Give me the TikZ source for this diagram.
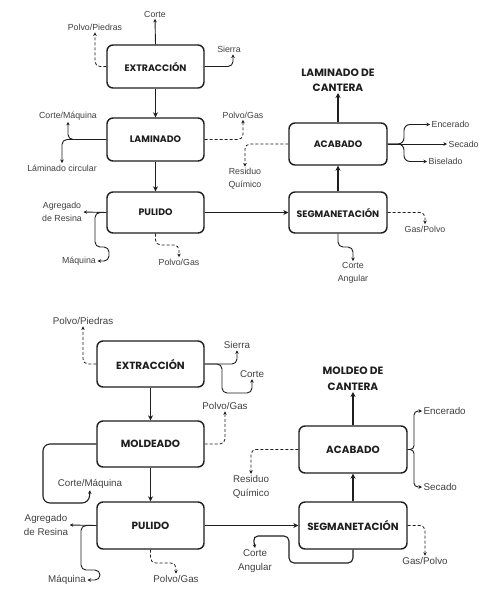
\documentclass[tikz,border=0pt]{standalone}
\usepackage{fontspec}
\setmainfont{Liberation Sans}
\newfontfamily\popfont{Poppins}
\usetikzlibrary{arrows.meta}
\definecolor{ink}{HTML}{1E1E1E}
\tikzset{
  boxA/.style={draw=ink, line width=1.4pt, rounded corners=6pt, inner sep=0pt,
     text=ink, font=\popfont\bfseries\fontsize{9.4}{11}\selectfont},
  boxB/.style={boxA, font=\popfont\bfseries\fontsize{10.4}{12}\selectfont},
  ttlA/.style={text=ink, align=center, inner sep=1pt, font=\popfont\bfseries\fontsize{10.6}{15}\selectfont},
  ttlB/.style={text=ink, align=center, inner sep=1pt, font=\popfont\bfseries\fontsize{10.6}{16}\selectfont},
  lblA/.style={text=ink!85, align=center, inner sep=1.5pt, font=\fontsize{8.8}{12.5}\selectfont},
  lblB/.style={text=ink!85, align=center, inner sep=1.5pt, font=\fontsize{9.8}{14}\selectfont},
  flow/.style={draw=ink, line width=1.3pt, -{Stealth[length=5pt,width=5pt]}},
  side/.style={draw=ink, line width=0.9pt, rounded corners=5pt, -{Stealth[length=3.5pt,width=3.5pt]}},
  dsh/.style={side, densely dashed, line width=0.8pt},
}
\begin{document}
\begin{tikzpicture}[x=1pt,y=-1pt]
\useasboundingbox (0,0) rectangle (499,595);
\fill[white] (0,0) rectangle (499,595);

% ---------------- top diagram ----------------
\node[boxA, minimum width=97, minimum height=43] (ex1) at (155.5,66.5) {EXTRACCIÓN};
\node[boxA, minimum width=97, minimum height=43] (la1) at (155.5,139.5) {LAMINADO};
\node[boxA, minimum width=97, minimum height=41] (pu1) at (155.5,212.5) {PULIDO};
\node[boxA, minimum width=98, minimum height=41] (sg1) at (338,212.5) {SEGMANETACIÓN};
\node[boxA, minimum width=98, minimum height=42] (ac1) at (338,144) {ACABADO};
\node[ttlA] (t1) at (338,80.5) {LAMINADO DE\\CANTERA};

\node[lblA] (corte1) at (155,14) {Corte};
\node[lblA] (pp1) at (95,27.5) {Polvo/Piedras};
\node[lblA] (sierra1) at (229,49.5) {Sierra};
\node[lblA] (cm1) at (68,116) {Corte/Máquina};
\node[lblA] (lc1) at (62,168) {Láminado circular};
\node[lblA] (pg1) at (243,115) {Polvo/Gas};
\node[lblA] (rq1) at (245,178.5) {Residuo\\Químico};
\node[lblA, anchor=west] (enc1) at (430,124.5) {Encerado};
\node[lblA, anchor=west] (sec1) at (447,144) {Secado};
\node[lblA, anchor=west] (bis1) at (427,161.5) {Biselado};
\node[lblA] (ag1) at (62,212) {Agregado\\de Resina};
\node[lblA] (maq1) at (79,261) {Máquina};
\node[lblA] (pg2) at (179,262) {Polvo/Gas};
\node[lblA] (gp1) at (425,229) {Gas/Polvo};
\node[lblA] (ca1) at (353,273) {Corte\\Angular};

\draw[flow] (ex1.south) -- (la1.north);
\draw[flow] (la1.south) -- (pu1.north);
\draw[flow] (pu1.east) -- (sg1.west);
\draw[flow] (sg1.north) -- (ac1.south);
\draw[flow] (ac1.north) -- (t1.south);

\draw[side] (ex1.north) -- (corte1.south);
\draw[dsh] (ex1.west) -| (pp1.south);
\draw[side] (ex1.east) -| ([xshift=4pt]sierra1.south);
\draw[side] (la1.west) -| (cm1.south);
\draw[side] (la1.west) -| (lc1.north);
\draw[dsh] (la1.east) -| (pg1.south);
\draw[dsh] (ac1.west) -| (rq1.north);
\draw[side, rounded corners=6pt] (ac1.east) -- (404,144) |- (enc1.west);
\draw[side] (ac1.east) -- (sec1.west);
\draw[side, rounded corners=6pt] (ac1.east) -- (404,144) |- (bis1.west);
\draw[side] (pu1.west) -- (ag1.east);
\draw[side] (pu1.west) -- (95,212.5) -- (95,247) -- (109,247) -- (109,261) -- (maq1.east);
\draw[dsh] (pu1.south) -- (155.5,245) -| (pg2.north);
\draw[dsh] (sg1.east) -| (gp1.north);
\draw[side] (sg1.south) -- (338,247) -| (ca1.north);

% ---------------- bottom diagram ----------------
\node[boxB, minimum width=107, minimum height=46] (ex2) at (150.5,364) {EXTRACCIÓN};
\node[boxB, minimum width=107, minimum height=46] (mo2) at (150.5,444) {MOLDEADO};
\node[boxB, minimum width=107, minimum height=47] (pu2) at (150.5,525.5) {PULIDO};
\node[boxB, minimum width=108, minimum height=47] (sg2) at (353,525.5) {SEGMANETACIÓN};
\node[boxB, minimum width=108, minimum height=47] (ac2) at (353,449.5) {ACABADO};
\node[ttlB] (t2) at (353,379) {MOLDEO DE\\CANTERA};

\node[lblB] (pp2) at (83,321) {Polvo/Piedras};
\node[lblB] (sierra2) at (237,345) {Sierra};
\node[lblB] (corte2) at (252,374) {Corte};
\node[lblB] (pg3) at (225,406) {Polvo/Gas};
\node[lblB] (cm2) at (90,484) {Corte/Máquina};
\node[lblB] (ag2) at (46,525) {Agregado\\de Resina};
\node[lblB] (maq2) at (67,580) {Máquina};
\node[lblB] (pg4) at (176,579) {Polvo/Gas};
\node[lblB] (rq2) at (251,487) {Residuo\\Químico};
\node[lblB, anchor=west] (enc2) at (422,411) {Encerado};
\node[lblB, anchor=west] (sec2) at (422,487) {Secado};
\node[lblB] (gp2) at (425,561) {Gas/Polvo};
\node[lblB] (ca2) at (255,561) {Corte\\Angular};

\draw[flow] (ex2.south) -- (mo2.north);
\draw[flow] (mo2.south) -- (pu2.north);
\draw[flow] (pu2.east) -- (sg2.west);
\draw[flow] (sg2.north) -- (ac2.south);
\draw[flow] (ac2.north) -- (t2.south);

\draw[dsh] (ex2.west) -| (pp2.south);
\draw[side] (ex2.east) -| (sierra2.south);
\draw[side] (ex2.east) -- (222,364) -- (222,393) -- (252,393) -- (corte2.south);
\draw[dsh] (mo2.east) -| (pg3.south);
\draw[side, line width=1.1pt, rounded corners=7pt] (mo2.west) -- (43,444) -- (43,503) -- (89,503) -- (cm2.south);
\draw[side] (pu2.west) -- (ag2.east);
\draw[side] (pu2.west) -- (81,525.5) -- (81,570) -- (100,570) -- (100,580) -- (maq2.east);
\draw[dsh] (pu2.south) -- (150.5,563) -| (pg4.north);
\draw[dsh] (ac2.west) -| (rq2.north);
\draw[side, rounded corners=4pt] (ac2.east) -- (414,449.5) |- (enc2.west);
\draw[side, rounded corners=4pt] (ac2.east) -- (414,449.5) |- (sec2.west);
\draw[dsh] (sg2.east) -| (gp2.north);
\draw[side, line width=1.1pt] (sg2.south) -- (353,563) -- (289,563) -- (289,536) -- (253,536) -- (ca2.north);
\end{tikzpicture}
\end{document}
